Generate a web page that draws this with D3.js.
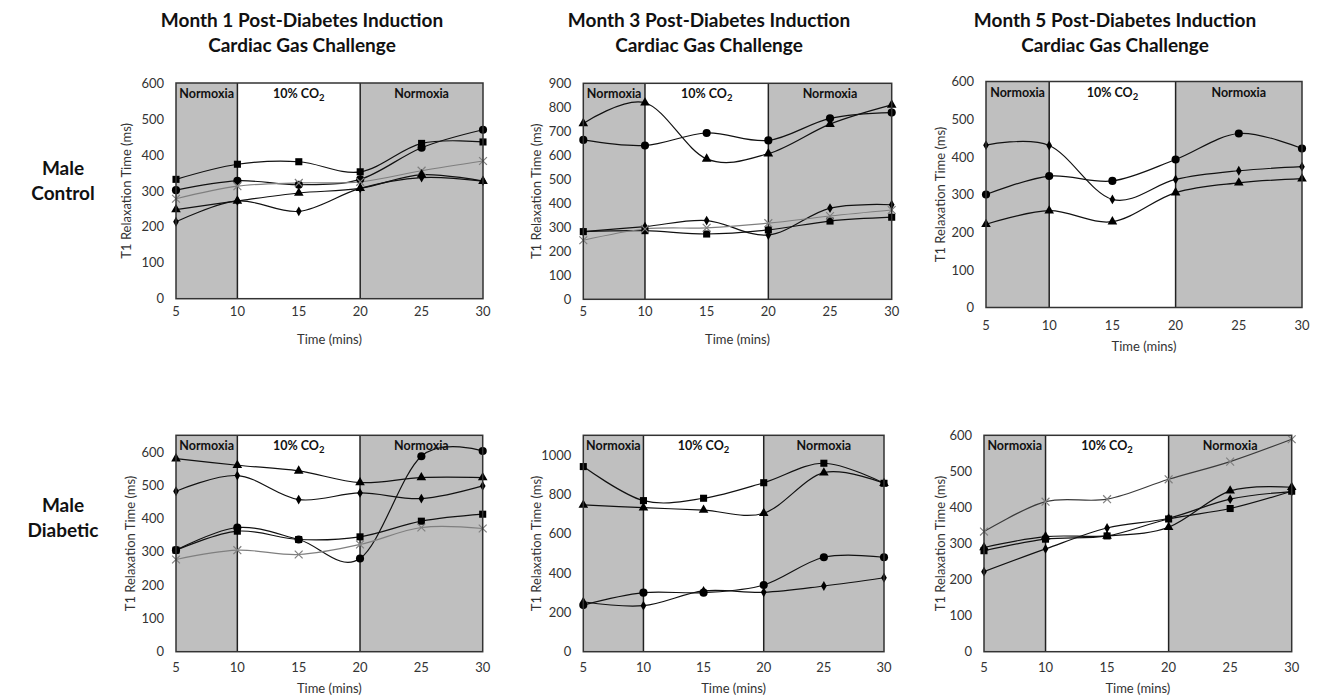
<!DOCTYPE html>
<html>
<head>
<meta charset="utf-8">
<script src="https://cdn.jsdelivr.net/npm/d3@7"></script>
<style>
  body { margin: 0; background: #fff; }
  svg { font-family: Lato, "Open Sans", sans-serif; }
</style>
</head>
<body>
<div id="chart"></div>
<script>
// time points (mins)
const times = [5, 10, 15, 20, 25, 30];

// Month 1, male control
const m1CtrlSquare = [332, 374, 381, 353, 432, 436];
const m1CtrlCircle = [302, 328, 317, 332, 420, 470];
const m1CtrlCross = [278, 313, 322, 325, 356, 383];
const m1CtrlTriangle = [248, 272, 294, 307, 345, 327];
const m1CtrlDiamond = [214, 272, 243, 307, 337, 327];

// Month 3, male control
const m3CtrlTriangle = [733, 819, 585, 607, 730, 810];
const m3CtrlCircle = [664, 641, 693, 662, 754, 778];
const m3CtrlDiamond = [282, 303, 328, 268, 380, 394];
const m3CtrlSquare = [282, 286, 272, 289, 326, 342];
const m3CtrlCross = [246, 293, 298, 317, 347, 372];

// Month 5, male control
const m5CtrlDiamond = [431, 430, 287, 340, 363, 374];
const m5CtrlCircle = [300, 349, 336, 393, 462, 422];
const m5CtrlTriangle = [221, 257, 228, 305, 331, 342];

// Month 1, male diabetic
const m1DiabTriangle = [580, 560, 543, 508, 523, 523];
const m1DiabDiamond = [482, 529, 457, 477, 460, 498];
const m1DiabCircle = [305, 373, 337, 280, 587, 603];
const m1DiabSquare = [305, 362, 337, 345, 392, 413];
const m1DiabCross = [277, 305, 292, 322, 373, 370];

// Month 3, male diabetic
const m3DiabSquare = [941, 768, 780, 859, 958, 856];
const m3DiabTriangle = [746, 732, 720, 704, 910, 856];
const m3DiabCircle = [237, 300, 300, 339, 480, 480];
const m3DiabDiamond = [254, 234, 309, 302, 334, 376];

// Month 5, male diabetic
const m5DiabCross = [333, 416, 423, 478, 527, 589];
const m5DiabTriangle = [289, 319, 321, 345, 446, 456];
const m5DiabSquare = [280, 312, 321, 368, 397, 445];
const m5DiabDiamond = [222, 285, 343, 370, 423, 444];

// axis maxima and steps
const yMaxes = [600, 900, 600, 650, 1100, 600];
const ySteps = [100, 100, 100, 100, 200, 100];
const xTicks = [5, 10, 15, 20, 25, 30];

const titles = [
  ["Month 1 Post-Diabetes Induction", "Cardiac Gas Challenge"],
  ["Month 3 Post-Diabetes Induction", "Cardiac Gas Challenge"],
  ["Month 5 Post-Diabetes Induction", "Cardiac Gas Challenge"]
];
const rowLabels = [["Male", "Control"], ["Male", "Diabetic"]];

// layout of each plot area (pixels)
const layout = [
  { x0: 176, x1: 483, top: 83, bottom: 298.7, xLab: 312, xTitle: 340, yTitle: 126, titleX: 302 },
  { x0: 583.3, x1: 891.7, top: 83.3, bottom: 299.3, xLab: 312, xTitle: 340, yTitle: 536, titleX: 709 },
  { x0: 986, x1: 1302, top: 81.5, bottom: 307.5, xLab: 326, xTitle: 347, yTitle: 940, titleX: 1115 },
  { x0: 176, x1: 482.7, top: 435.3, bottom: 651.7, xLab: 668, xTitle: 689, yTitle: 130 },
  { x0: 583.3, x1: 884, top: 435.3, bottom: 651.7, xLab: 668, xTitle: 689, yTitle: 536 },
  { x0: 984, x1: 1291.7, top: 435.3, bottom: 651.7, xLab: 668, xTitle: 689, yTitle: 940 }
];

const panels = [
  [["square", m1CtrlSquare], ["circle", m1CtrlCircle], ["cross", m1CtrlCross], ["triangle", m1CtrlTriangle], ["diamond", m1CtrlDiamond]],
  [["triangle", m3CtrlTriangle], ["circle", m3CtrlCircle], ["diamond", m3CtrlDiamond], ["square", m3CtrlSquare], ["cross", m3CtrlCross]],
  [["diamond", m5CtrlDiamond], ["circle", m5CtrlCircle], ["triangle", m5CtrlTriangle]],
  [["triangle", m1DiabTriangle], ["diamond", m1DiabDiamond], ["circle", m1DiabCircle], ["square", m1DiabSquare], ["cross", m1DiabCross]],
  [["square", m3DiabSquare], ["triangle", m3DiabTriangle], ["circle", m3DiabCircle], ["diamond", m3DiabDiamond]],
  [["cross", m5DiabCross], ["triangle", m5DiabTriangle], ["square", m5DiabSquare], ["diamond", m5DiabDiamond]]
];

const symbols = {
  square: { type: d3.symbolSquare, size: 50 },
  circle: { type: d3.symbolCircle, size: 52 },
  triangle: { type: d3.symbolTriangle, size: 40 },
  diamond: { type: d3.symbolDiamond, size: 28 },
  cross: { type: d3.symbolX, size: 42 }
};

const svg = d3.select("#chart").append("svg")
  .attr("width", 1320)
  .attr("height", 700);

const axisColor = "#333";
const shade = "#bfbfbf";

// column titles
titles.forEach((t, i) => {
  const txt = svg.append("text")
    .attr("x", layout[i].titleX)
    .attr("text-anchor", "middle")
    .style("font-size", "19px")
    .style("font-weight", "bold")
    .style("fill", "#111");
  txt.append("tspan").attr("x", layout[i].titleX).attr("y", 27).text(t[0]);
  txt.append("tspan").attr("x", layout[i].titleX).attr("y", 52).text(t[1]);
});

// row labels
rowLabels.forEach((r, i) => {
  const cy = i === 0 ? 168 : 505;
  const txt = svg.append("text")
    .attr("text-anchor", "middle")
    .style("font-size", "19px")
    .style("font-weight", "bold")
    .style("fill", "#111");
  txt.append("tspan").attr("x", 63).attr("y", cy + 7).text(r[0]);
  txt.append("tspan").attr("x", 63).attr("y", cy + 32).text(r[1]);
});

panels.forEach((series, i) => {
  const L = layout[i];
  const g = svg.append("g");

  const x = d3.scaleLinear().domain([5, 30]).range([L.x0, L.x1]);
  const y = d3.scaleLinear().domain([0, yMaxes[i]]).range([L.bottom, L.top]);

  // shaded normoxia periods
  g.append("rect")
    .attr("x", x(5)).attr("y", y(yMaxes[i]))
    .attr("width", x(10) - x(5)).attr("height", y(0) - y(yMaxes[i]))
    .attr("fill", shade);
  g.append("rect")
    .attr("x", x(20)).attr("y", y(yMaxes[i]))
    .attr("width", x(30) - x(20)).attr("height", y(0) - y(yMaxes[i]))
    .attr("fill", shade);

  // period dividers
  [10, 20].forEach(v => {
    g.append("line")
      .attr("x1", x(v)).attr("x2", x(v))
      .attr("y1", y(0)).attr("y2", y(yMaxes[i]))
      .attr("stroke", "#222").attr("stroke-width", 1.5);
  });

  // period labels
  const labY = y(yMaxes[i]) + 15;
  g.append("text")
    .attr("x", (x(5) + x(10)) / 2).attr("y", labY)
    .attr("text-anchor", "middle")
    .style("font-size", "12.5px").style("font-weight", "bold").style("fill", "#111")
    .text("Normoxia");
  const co2 = g.append("text")
    .attr("x", (x(10) + x(20)) / 2).attr("y", labY)
    .attr("text-anchor", "middle")
    .style("font-size", "12.5px").style("font-weight", "bold").style("fill", "#111");
  co2.append("tspan").text("10% CO");
  co2.append("tspan").attr("dy", 3).style("font-size", "9.5px").text("2");
  g.append("text")
    .attr("x", (x(20) + x(30)) / 2).attr("y", labY)
    .attr("text-anchor", "middle")
    .style("font-size", "12.5px").style("font-weight", "bold").style("fill", "#111")
    .text("Normoxia");

  // lines
  const line = d3.line()
    .x((d, j) => x(times[j]))
    .y(d => y(d))
    .curve(d3.curveCardinal.tension(0));

  series.forEach(([shape, vals]) => {
    const isCross = shape === "cross";
    g.append("path")
      .attr("d", line(vals))
      .attr("fill", "none")
      .attr("stroke", isCross ? (i === 5 ? "#3a3a3a" : "#7f7f7f") : "#111")
      .attr("stroke-width", 1.2);
  });

  // markers
  series.forEach(([shape, vals]) => {
    const s = symbols[shape];
    const isCross = shape === "cross";
    g.selectAll(null)
      .data(vals)
      .enter().append("path")
      .attr("transform", (d, j) => `translate(${x(times[j])},${y(d)})`)
      .attr("d", d3.symbol().type(s.type).size(s.size))
      .attr("fill", isCross ? "none" : "#000")
      .attr("stroke", isCross ? "#808080" : "none")
      .attr("stroke-width", isCross ? 1.2 : 0);
  });

  // plot border
  g.append("rect")
    .attr("x", x(5)).attr("y", y(yMaxes[i]))
    .attr("width", x(30) - x(5)).attr("height", y(0) - y(yMaxes[i]))
    .attr("fill", "none")
    .attr("stroke", "#333").attr("stroke-width", 1.5);

  // y axis
  const yTickVals = d3.range(0, yMaxes[i] + 1, ySteps[i]);
  const yAxis = g.append("g")
    .attr("transform", `translate(${L.x0},0)`)
    .call(d3.axisLeft(y).tickValues(yTickVals).tickFormat(d3.format("d")).tickSize(0).tickPadding(12));
  yAxis.select(".domain").remove();
  yAxis.selectAll("text")
    .style("font-size", "13px")
    .style("font-family", "Lato, sans-serif")
    .style("fill", axisColor);

  // x axis labels
  g.selectAll(null)
    .data(xTicks)
    .enter().append("text")
    .attr("x", d => x(d))
    .attr("y", L.xLab + 4)
    .attr("text-anchor", "middle")
    .style("font-size", "13px")
    .style("fill", axisColor)
    .text(d => d);

  // axis titles
  g.append("text")
    .attr("x", (L.x0 + L.x1) / 2)
    .attr("y", L.xTitle + 4)
    .attr("text-anchor", "middle")
    .style("font-size", "13px")
    .style("fill", axisColor)
    .text("Time (mins)");

  g.append("text")
    .attr("transform", `translate(${L.yTitle},${(L.top + L.bottom) / 2}) rotate(-90)`)
    .attr("dy", "0.35em")
    .attr("text-anchor", "middle")
    .style("font-size", "13px")
    .style("fill", axisColor)
    .text("T1 Relaxation Time (ms)");
});
</script>
</body>
</html>
